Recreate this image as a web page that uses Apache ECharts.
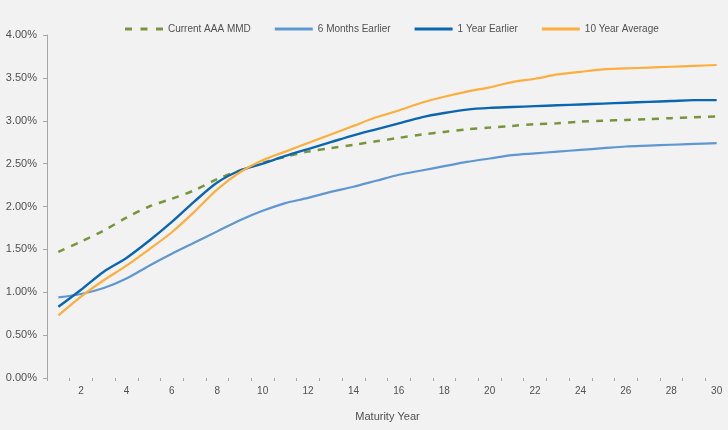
<!DOCTYPE html>
<html>
<head>
<meta charset="utf-8">
<script src="https://cdn.jsdelivr.net/npm/echarts@6/dist/echarts.min.js"></script>
<style>
  html, body { margin: 0; padding: 0; background: #f2f2f2; }
  #chart { width: 728px; height: 430px; }
</style>
</head>
<body>
<div id="chart"></div>
<script>
// Maturity years 1..30
const years = [1,2,3,4,5,6,7,8,9,10,11,12,13,14,15,16,17,18,19,20,21,22,23,24,25,26,27,28,29,30];

// Yield curves, in percent
const currentMMD = [1.47,1.59,1.72,1.87,2.00,2.09,2.19,2.32,2.42,2.51,2.58,2.64,2.68,2.72,2.76,2.80,2.84,2.87,2.90,2.92,2.94,2.96,2.97,2.99,3.00,3.01,3.02,3.03,3.04,3.05];
const sixMonthsEarlier = [0.94,0.98,1.05,1.16,1.31,1.45,1.58,1.71,1.84,1.95,2.04,2.10,2.17,2.23,2.30,2.37,2.42,2.47,2.52,2.56,2.60,2.62,2.64,2.66,2.68,2.70,2.71,2.72,2.73,2.74];
const oneYearEarlier = [0.83,1.03,1.24,1.40,1.60,1.82,2.06,2.28,2.42,2.50,2.59,2.67,2.75,2.83,2.90,2.97,3.04,3.09,3.13,3.15,3.16,3.17,3.18,3.19,3.20,3.21,3.22,3.23,3.24,3.24];
const tenYearAverage = [0.73,0.95,1.14,1.31,1.50,1.70,1.94,2.20,2.40,2.54,2.64,2.74,2.84,2.94,3.04,3.12,3.21,3.28,3.34,3.39,3.45,3.49,3.54,3.57,3.60,3.61,3.62,3.63,3.64,3.65];

const seriesNames = ['Current AAA MMD', '6 Months Earlier', '1 Year Earlier', '10 Year Average'];
const seriesColors = ['#77963c', '#5e97d1', '#0b66b0', '#fdae3c'];

const FONT = '"Liberation Sans", Arial, sans-serif';
const TEXT = '#505050';

// Legend keys: a dashed key for the current curve, plain strokes for the others
const DASHED_KEY = 'path://M0,0h7v3h-7z M15.5,0h7v3h-7z M31,0h7v3h-7z';

const chart = echarts.init(document.getElementById('chart'), null, { renderer: 'canvas' });

function lineSeries(i, data, extra) {
  return Object.assign({
    name: seriesNames[i],
    type: 'line',
    data: data,
    smooth: 0.3,
    symbol: 'none',
    showSymbol: false,
    lineStyle: { color: seriesColors[i], width: 2.2 },
    itemStyle: { color: seriesColors[i] },
    emphasis: { disabled: true }
  }, extra || {});
}

chart.setOption({
  backgroundColor: '#f2f2f2',
  animation: false,
  textStyle: { fontFamily: FONT },
  legend: {
    top: 24,
    left: 125,
    padding: 0,
    itemWidth: 38,
    itemHeight: 3,
    itemGap: 24,
    textStyle: { color: TEXT, fontSize: 10, fontFamily: FONT },
    data: seriesNames.map(function (n, i) {
      return { name: n, icon: i === 0 ? DASHED_KEY : 'rect' };
    })
  },
  grid: {
    left: 47,
    top: 35,
    width: 684,
    height: 343,
    containLabel: false
  },
  xAxis: {
    type: 'category',
    data: years,
    boundaryGap: true,
    name: 'Maturity Year',
    nameLocation: 'middle',
    nameGap: 33,
    nameTextStyle: { color: TEXT, fontSize: 11, fontFamily: FONT },
    axisLine: { show: true, lineStyle: { color: 'rgba(0,0,0,0)' } },
    axisTick: { show: true, interval: 0, length: 3, lineStyle: { color: '#a6a6a6' } },
    axisLabel: {
      interval: function (index) { return index % 2 === 1; },
      color: TEXT,
      fontSize: 10,
      fontFamily: FONT,
      margin: 8
    },
    splitLine: { show: false }
  },
  yAxis: {
    type: 'value',
    min: 0,
    max: 4,
    interval: 0.5,
    axisLine: { show: true, lineStyle: { color: '#a6a6a6' } },
    axisTick: { show: true, length: 4, lineStyle: { color: '#a6a6a6' } },
    axisLabel: {
      formatter: function (v) { return v.toFixed(2) + '%'; },
      color: TEXT,
      fontSize: 11,
      fontFamily: FONT,
      margin: 10
    },
    splitLine: { show: false }
  },
  series: [
    lineSeries(0, currentMMD, { lineStyle: { color: seriesColors[0], width: 2.5, type: [7, 7] } }),
    lineSeries(1, sixMonthsEarlier),
    lineSeries(2, oneYearEarlier, { lineStyle: { color: seriesColors[2], width: 2.4 } }),
    lineSeries(3, tenYearAverage)
  ]
});
</script>
</body>
</html>
